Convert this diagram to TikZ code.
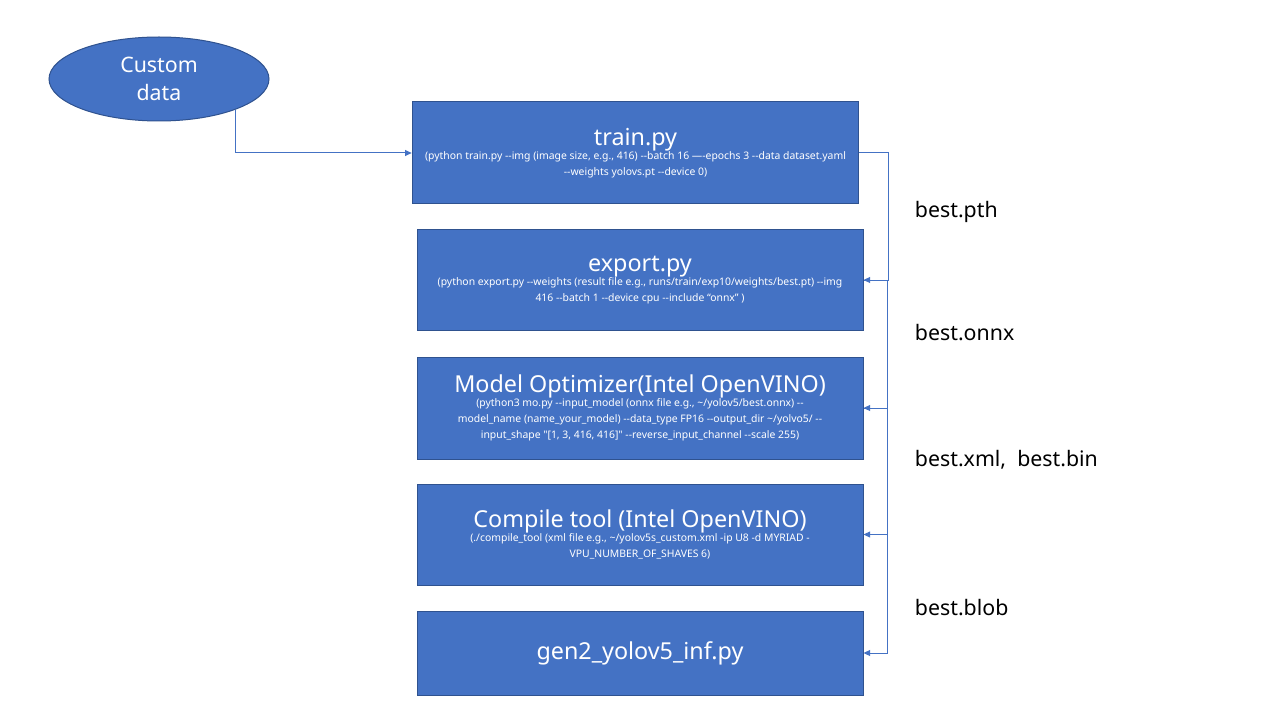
\documentclass[tikz,border=0pt]{standalone}
\usepackage{fontspec}
\newfontfamily\lbl{Noto Sans}
\usetikzlibrary{shapes.geometric,arrows.meta}
\definecolor{boxblue}{RGB}{68,114,196}
\definecolor{boxedge}{RGB}{47,82,143}
\tikzset{every picture/.style={line width=0.75pt},
  stepbox/.style={draw=boxedge,fill=boxblue,text=white,align=center,inner sep=0pt,minimum width=334.5pt},
  conn/.style={draw=boxblue,-{Triangle[length=5pt,width=4.5pt]}},
  outlbl/.style={anchor=west,font=\lbl\fontsize{16}{19}\selectfont}}
\newcommand{\cmd}{\lbl\fontsize{7.8}{9.6}\selectfont}
\newcommand{\ttl}{\lbl\fontsize{17.5}{21}\selectfont}
\begin{document}
\begin{tikzpicture}[x=0.75pt,y=0.75pt,yscale=-1]
\useasboundingbox[fill=white] (0,0) rectangle (1280,720);
%Ellipse: custom data
\node[ellipse,draw=boxedge,fill=boxblue,text=white,minimum width=165pt,minimum height=63pt,inner sep=0pt,align=center,font=\lbl\fontsize{16}{21}\selectfont] (data) at (159,79) {Custom\\data};
%Boxes
\node[stepbox,minimum width=335pt,minimum height=76.5pt] (train) at (635.5,153) {{\ttl train.py}\\[-1pt]{\cmd (python train.py --img (image size, e.g., 416) --batch 16 —-epochs 3 --data dataset.yaml}\\{\cmd --weights yolovs.pt --device 0)}};
\node[stepbox,minimum height=75pt] (export) at (640,280) {{\ttl export.py}\\[-1pt]{\cmd (python export.py --weights (result file e.g., runs/train/exp10/weights/best.pt) --img}\\{\cmd 416 --batch 1 --device cpu --include “onnx” )}};
\node[stepbox,minimum height=76.5pt] (mo) at (640,408) {{\ttl Model Optimizer(Intel OpenVINO)}\\[-1pt]{\cmd (python3 mo.py --input\_model (onnx file e.g., \textasciitilde/yolov5/best.onnx) --}\\{\cmd model\_name (name\_your\_model) --data\_type FP16 --output\_dir \textasciitilde/yolvo5/ --}\\{\cmd input\_shape "[1, 3, 416, 416]" --reverse\_input\_channel --scale 255)}};
\node[stepbox,minimum height=75.75pt] (ct) at (640,534.5) {{\ttl Compile tool (Intel OpenVINO)}\\[-1pt]{\cmd (./compile\_tool (xml file e.g., \textasciitilde/yolov5s\_custom.xml -ip U8 -d MYRIAD -}\\{\cmd VPU\_NUMBER\_OF\_SHAVES 6)}};
\node[stepbox,minimum height=63pt] (gen) at (640,653) {{\ttl gen2\_yolov5\_inf.py}};
%Connectors
\draw[conn] (data.-22) |- (train.west);
\draw[conn] (train.east) -- ++(29,0) |- (export.east);
\draw[conn] (export.east) -- ++(24,0) |- (mo.east);
\draw[conn] (mo.east) -- ++(24,0) |- (ct.east);
\draw[conn] (ct.east) -- ++(24,0) |- (gen.east);
%Labels
\node[outlbl] (pth) at (910,212) {best.pth};
\node[outlbl] (onnx) at (910,333) {best.onnx};
\node[outlbl] (xml) at (910,460) {best.xml,\ \ best.bin};
\node[outlbl] (blob) at (910,608) {best.blob};
\end{tikzpicture}
\end{document}
